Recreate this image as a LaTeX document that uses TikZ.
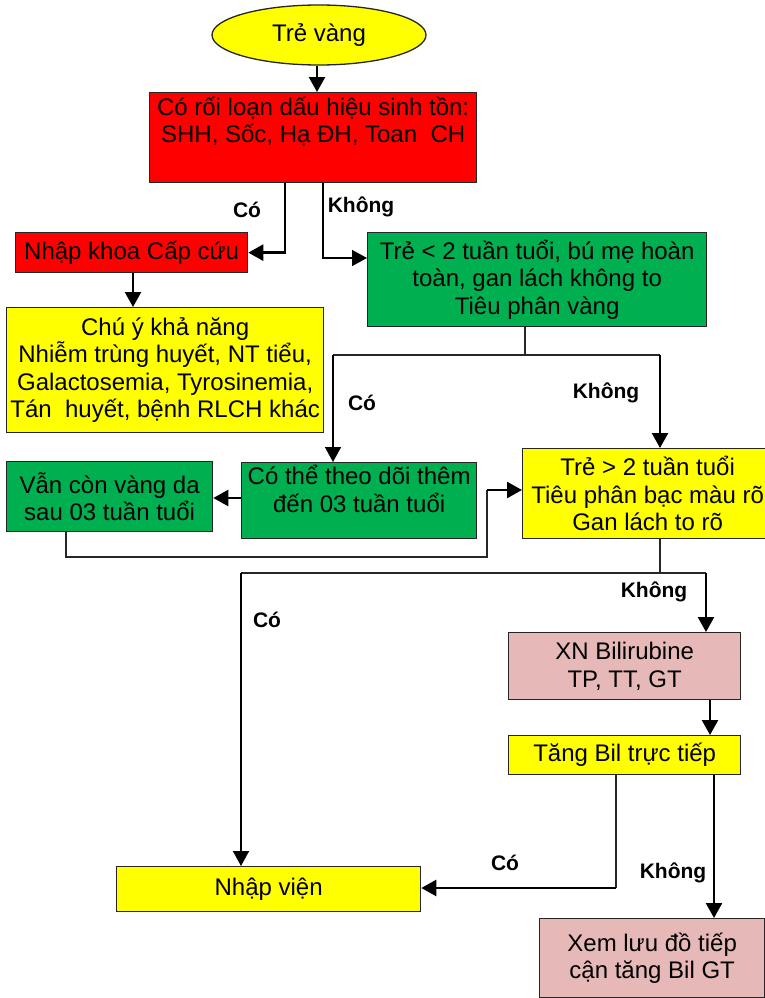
\documentclass[tikz,border=0pt]{standalone}
\usepackage{fontspec}
\setmainfont{Liberation Sans}
\usetikzlibrary{arrows.meta,shapes.geometric,calc}
\definecolor{cyellow}{HTML}{FFFF00}
\definecolor{cred}{HTML}{FF0000}
\definecolor{cgreen}{HTML}{00B050}
\definecolor{cpink}{HTML}{E6B9B8}
\definecolor{cborder}{HTML}{262626}
\tikzset{
  box/.style={draw=cborder, line width=1.3pt, rectangle, anchor=north west, align=center,
    font=\fontsize{24}{27.5}\selectfont, inner sep=0pt},
  lbl/.style={font=\fontsize{21}{24}\selectfont\bfseries, inner sep=0pt},
  conn/.style={line width=1.3pt, draw=black!85},
  arr/.style={line width=2.4pt, draw=black, -{Triangle[length=15pt,width=16pt]}},
  thinarr/.style={line width=1.6pt, draw=black, -{Triangle[length=15pt,width=16pt]}},
}
\begin{document}
\begin{tikzpicture}[x=1pt,y=-1pt]
\clip (0,0) rectangle (765,998);
\fill[white] (0,0) rectangle (765,998);

% nodes
\node[ellipse, draw=cborder, line width=1.3pt, fill=cyellow, minimum width=214pt, minimum height=60pt,
  inner sep=0pt, font=\fontsize{24}{27.5}\selectfont] (start) at (319,35) {Trẻ vàng};
\node[box, fill=cred, minimum width=327pt, minimum height=90pt] (r1) at (149,92)
  {Có rối loạn dấu hiệu sinh tồn:\\SHH, Sốc, Hạ ĐH, Toan\ \ CH\\\strut};
\node[box, fill=cred, minimum width=232pt, minimum height=40pt] (nk) at (15,232) {Nhập khoa Cấp cứu};
\node[box, fill=cgreen, minimum width=339pt, minimum height=94pt] (g1) at (367,232)
  {Trẻ < 2 tuần tuổi, bú mẹ hoàn\\toàn, gan lách không to\\Tiêu phân vàng};
\node[box, fill=cyellow, minimum width=317pt, minimum height=125pt] (cy) at (6,307)
  {Chú ý khả năng\\Nhiễm trùng huyết, NT tiểu,\\Galactosemia, Tyrosinemia,\\Tán\ \ huyết, bệnh RLCH khác};
\node[box, fill=cgreen, minimum width=206pt, minimum height=70pt] (vc) at (6,461)
  {Vẫn còn vàng da\\sau 03 tuần tuổi};
\node[box, fill=cgreen, minimum width=235pt, minimum height=76pt] (ct) at (241,462)
  {Có thể theo dõi thêm\\đến 03 tuần tuổi\\[-12pt]\strut};
\node[box, fill=cyellow, minimum width=250pt, minimum height=90pt] (y2) at (522,448)
  {Trẻ > 2 tuần tuổi\\Tiêu phân bạc màu rõ\\Gan lách to rõ};
\node[box, fill=cpink, minimum width=232pt, minimum height=67pt] (xn) at (508,632)
  {XN Bilirubine\\TP, TT, GT};
\node[box, fill=cyellow, minimum width=232pt, minimum height=39pt] (tb) at (508,735)
  {Tăng Bil trực tiếp};
\node[box, fill=cyellow, minimum width=304pt, minimum height=45pt] (nv) at (116,866)
  {Nhập viện};
\node[box, fill=cpink, minimum width=225pt, minimum height=79pt] (xm) at (539,918)
  {Xem lưu đồ tiếp\\cận tăng Bil GT};

% labels
\node[lbl] (l1) at (247,210) {Có};
\node[lbl] (l2) at (361,207) {Không};
\node[lbl] (l3) at (362,403) {Có};
\node[lbl] (l4) at (606,393) {Không};
\node[lbl] (l5) at (267,620) {Có};
\node[lbl] (l6) at (654,592) {Không};
\node[lbl] (l7) at (505,863) {Có};
\node[lbl] (l8) at (673,873) {Không};

% connectors
\draw[arr] (317,0 |- start.south) -- (317,0 |- r1.north);
\draw[arr] (285,0 |- r1.south) |- (nk.east);
\draw[thinarr] (323,0 |- r1.south) |- (g1.west |- 0,258);
\draw[arr] (133,0 |- nk.south) -- (133,0 |- cy.north);

\draw[conn] (525,0 |- g1.south) -- (525,355);
\draw[conn] (333,355) -- (660,355);
\draw[thinarr] (333,355) -- (333,0 |- ct.north);
\draw[arr] (660,355) -- (660,0 |- y2.north);

\draw[arr] (ct.west |- 0,498) -- (vc.east |- 0,498);
\draw[conn] (66,0 |- vc.south) |- (487,557) -- (487,490);
\draw[arr] (487,490) -- (y2.west |- 0,490);

\draw[conn] (660,0 |- y2.south) -- (660,573);
\draw[conn] (241,573) -- (706,573);
\draw[thinarr] (241,573) -- (241,0 |- nv.north);
\draw[arr] (706,573) -- (706,0 |- xn.north);

\draw[arr] (710,0 |- xn.south) -- (710,0 |- tb.north);
\draw[conn] (616,0 |- tb.south) -- (616,888);
\draw[arr] (616,888) -- (nv.east |- 0,888);
\draw[arr] (714,0 |- tb.south) -- (714,0 |- xm.north);
\end{tikzpicture}
\end{document}
